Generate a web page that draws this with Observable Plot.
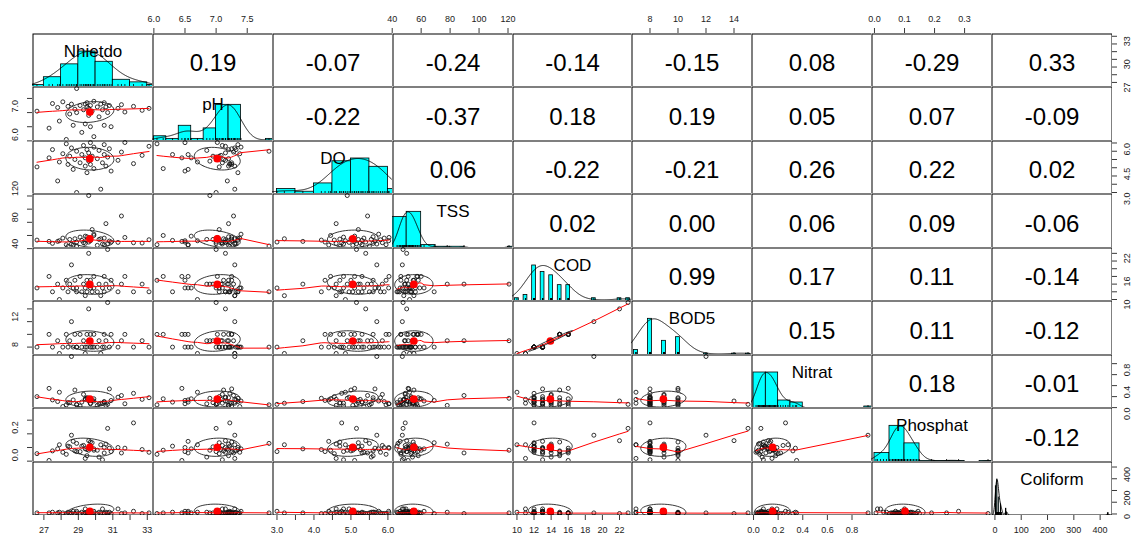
<!DOCTYPE html>
<html>
<head>
<meta charset="utf-8">
<script src="https://cdn.jsdelivr.net/npm/d3@7"></script>
<script src="https://cdn.jsdelivr.net/npm/@observablehq/plot@0.6"></script>
<style>
html, body { margin: 0; padding: 0; background: #fff; }
#chart { position: relative; width: 1131px; height: 533px; overflow: hidden; background: #fff;
  font-family: "Liberation Sans", Arial, Helvetica, sans-serif; }
.cell { position: absolute; overflow: hidden; }
.axis { position: absolute; overflow: visible; }
.cell svg, .axis svg { display: block; }
</style>
</head>
<body>
<div id="chart"></div>
<script>
// ---------------- data (one entry per water sample) ----------------
const variables = ["Nhietdo", "pH", "DO", "TSS", "COD", "BOD5", "Nitrat", "Phosphat", "Coliform"];

const nhietdo = [26.6, 27.3, 27.5, 27.8, 27.9, 28.1, 28.3, 28.4, 28.5, 28.6, 28.7, 28.8, 28.9, 28.9, 29.1, 29.2,
  29.3, 29.4, 29.4, 29.5, 29.5, 29.6, 29.6, 29.7, 29.7, 29.8, 29.9, 29.9, 30.1, 30.2, 30.3, 30.4, 30.5, 30.5,
  30.6, 30.7, 30.8, 30.9, 31.3, 31.5, 31.7, 32.2, 32.7, 33.1, null, null];
const ph = [7.05, 6.45, 7.32, 7.18, 6.7, 7.38, 6.05, 7.22, 6.95, 7.3, 6.55, 7.12, 7.85, 7.0, 7.25, 6.3, 7.1,
  7.3, 6.6, 7.2, 7.35, 6.9, 7.15, 6.5, 7.25, 7.05, 7.4, 6.15, 7.2, 6.85, 7.3, 7.1, 6.55, 7.35, 7.2, 7.0, 7.25,
  6.5, 7.15, 7.28, 7.02, 7.22, 7.08, 7.15, null, null];
const dissolvedO = [4.55, 5.1, 5.6, 3.7, 4.85, 5.35, 5.95, 4.7, 5.2, 5.7, 4.4, 5.0, 5.5, 3.0, 4.8, 5.3, 5.85,
  4.6, 5.1, 5.6, 4.2, 4.9, 5.4, 6.02, 4.7, 5.2, 5.75, 4.45, 5.05, 5.55, 3.2, 4.8, 5.3, 5.9, 4.6, 5.15, 5.65,
  4.3, 4.95, 5.45, 6.03, 4.75, 5.25, 5.8, null, null];
const tss = [53, 51, 48, 51, 52, 56, 46, 43.3, 54, 47, 45.5, 55, 44, 50, 57.5, 52.5, 49, 48, 59, 58, 53, 120.7,
  50, 52, 54.5, 69, 62, 60, 45, 54, 55, 47, 46, 56, 78, 47.5, 51.5, 50, 49.5, 89.6, 57, 49, 48.5, 53.5, null, null];
const cod = [13, 16, 12, 14, 10, 13, 15, 12, 14, 19, 13, 15, 12, 13, 16, 12, 14, 11, 13, 15, 12, 14, 22, 13, 15,
  12, 13, 16, 12, 14, 11, 13, 16, 12, 14, 23, 13, 15, 12, 14, 16, 12, 14, 12, null, null];
const bod5 = [8, 10, 8, 9, 7, 8, 10, 8, 9, 12, 8, 10, 8, 8, 10, 8, 9, 7, 8, 10, 8, 9, 14, 8, 10, 8, 8, 10, 8, 9,
  7, 8, 10, 8, 9, 15, 8, 10, 8, 9, 10, 8, 9, 8, null, null];
const nitrat = [0.2, 0.35, 0.14, 0.11, 0.28, 0.02, 0.05, 0.09, 0.09, 0.93, 0.14, 0.32, 0.05, 0.06, 0.03, 0.1,
  0.24, 0.15, 0.16, 0.18, 0.17, 0.17, 0.12, 0.07, 0.08, 0.13, 0.12, 0.16, 0.04, 0.07, 0.08, 0.08, 0.1, 0.11,
  0.04, 0.06, 0.34, 0.13, 0.19, 0.22, 0.07, 0.26, 0.15, 0.18, null, null];
const phosphat = [0.055, 0.005, 0.075, 0.09, 0.12, 0.065, 0.05, 0.11, 0.105, 0.19, 0.145, 0.075, 0.13, 0.07,
  0.07, 0.11, 0.115, 0.02, 0.09, 0.04, 0.085, 0.08, 0.15, 0.1, 0.14, 0.135, 0.09, 0.08, 0.08, 0.03, 0.12, 0.01,
  0.06, 0.1, 0.125, 0.24, 0.095, 0.07, 0.1, 0.06, 0.095, 0.28, 0.085, 0.065, 0.378, null];
const coliform = [9, 9, 15, 9, 15, 9, 4, 15, 9, 9, 23, 4, 9, 23, 4, 15, 4, 43, 9, 15, 4, 9, 4, 23, 9, 4, 23, 9,
  4, 15, 9, 43, 9, 4, 15, 9, 15, 4, 43, 4, 9, 23, 4, 9, 4, 430];

// correlations printed in the upper triangle (row by row)
const corrRows = [
  ["0.19", "-0.07", "-0.24", "-0.14", "-0.15", "0.08", "-0.29", "0.33"],
  ["-0.22", "-0.37", "0.18", "0.19", "0.05", "0.07", "-0.09"],
  ["0.06", "-0.22", "-0.21", "0.26", "0.22", "0.02"],
  ["0.02", "0.00", "0.06", "0.09", "-0.06"],
  ["0.99", "0.17", "0.11", "-0.14"],
  ["0.15", "0.11", "-0.12"],
  ["0.18", "-0.01"],
  ["-0.12"]
];

// axis ticks and labels
const axisTicks = [
  [27, 28, 29, 30, 31, 32, 33],
  [6.0, 6.5, 7.0, 7.5],
  [3.0, 3.5, 4.0, 4.5, 5.0, 5.5, 6.0],
  [40, 60, 80, 100, 120],
  [10, 12, 14, 16, 18, 20, 22],
  [8, 10, 12, 14],
  [0, 0.2, 0.4, 0.6, 0.8],
  [0, 0.1, 0.2, 0.3],
  [0, 100, 200, 300, 400]
];
const xAxisLabels = [
  [27, 29, 31, 33], [6.0, 6.5, 7.0, 7.5], [3, 4, 5, 6], [40, 60, 80, 100, 120], [10, 12, 14, 16, 18, 20, 22],
  [8, 10, 12, 14], [0, 0.2, 0.4, 0.6, 0.8], [0, 0.1, 0.2, 0.3], [0, 100, 200, 300, 400]
];
const yAxisLabels = [
  [27, 30, 33], [6.0, 7.0], [3.0, 4.5, 6.0], [40, 80, 120], [10, 16, 22], [8, 12], [0, 0.4, 0.8], [0, 0.2], [0, 200, 400]
];
const labelDecimals = [0, 1, 1, 0, 0, 0, 1, 1, 0];

// ---------------- helpers ----------------
const columns = [nhietdo, ph, dissolvedO, tss, cod, bod5, nitrat, phosphat, coliform];
const FONT = '"Liberation Sans", Arial, Helvetica, sans-serif';
const N = variables.length;
const nObs = columns[0].length;
const present = columns.map(col => col.filter(v => v != null));
const domains = present.map(v => { const [a, b] = d3.extent(v); const p = 0.04 * (b - a); return [a - p, b + p]; });
const means = present.map(v => d3.mean(v));
const sds = present.map(v => d3.deviation(v));
const corrOf = (a, b) => corrRows[Math.min(a, b)][Math.max(a, b) - Math.min(a, b) - 1];

function lowess(x, y, f = 2 / 3, iter = 3) {
  const n = x.length;
  const order = d3.range(n).sort((a, b) => x[a] - x[b]);
  const X = order.map(i => x[i]), Y = order.map(i => y[i]);
  if (n < 3) return X.map((v, k) => ({x: v, y: Y[k]}));
  const ns = Math.max(2, Math.min(n, Math.floor(f * n + 1e-7)));
  const range = X[n - 1] - X[0];
  const rw = new Array(n).fill(1);
  const fit = new Array(n).fill(0);
  for (let it = 0; it <= iter; it++) {
    let nleft = 0, nright = ns - 1;
    for (let i = 0; i < n; i++) {
      while (nright < n - 1) {
        const d1 = X[i] - X[nleft], d2 = X[nright + 1] - X[i];
        if (d1 <= d2) break;
        nleft++; nright++;
      }
      const h = Math.max(X[i] - X[nleft], X[nright] - X[i]);
      const h9 = 0.999 * h, h1 = 0.001 * h;
      const w = new Array(n).fill(0);
      let a = 0, j = nleft;
      while (j < n) {
        const r = Math.abs(X[j] - X[i]);
        if (r <= h9) {
          w[j] = (r <= h1 ? 1 : Math.pow(1 - Math.pow(r / h, 3), 3)) * rw[j];
          a += w[j];
        } else if (X[j] > X[i]) break;
        j++;
      }
      const nrt = j - 1;
      if (a <= 0) { fit[i] = Y[i]; continue; }
      for (let k = nleft; k <= nrt; k++) w[k] /= a;
      if (h > 0) {
        let aa = 0;
        for (let k = nleft; k <= nrt; k++) aa += w[k] * X[k];
        let b = X[i] - aa, c = 0;
        for (let k = nleft; k <= nrt; k++) c += w[k] * (X[k] - aa) * (X[k] - aa);
        if (Math.sqrt(c) > 0.001 * range) {
          b /= c;
          for (let k = nleft; k <= nrt; k++) w[k] *= (b * (X[k] - aa) + 1);
        }
      }
      let s = 0;
      for (let k = nleft; k <= nrt; k++) s += w[k] * Y[k];
      fit[i] = s;
    }
    if (it >= iter) break;
    const absr = Y.map((v, k) => Math.abs(v - fit[k]));
    const cmad = 6 * d3.median(absr);
    if (cmad < 1e-7 * d3.mean(Y, v => Math.abs(v))) break;
    const c9 = 0.999 * cmad, c1 = 0.001 * cmad;
    for (let k = 0; k < n; k++) {
      const r = absr[k];
      rw[k] = r <= c1 ? 1 : r <= c9 ? Math.pow(1 - Math.pow(r / cmad, 2), 2) : 0;
    }
  }
  return X.map((v, k) => ({x: v, y: fit[k]}));
}

function ellipsePoints(xm, ym, xsd, ysd, rho) {
  const th = rho !== 0 ? Math.sign(rho) / Math.SQRT2 : 1 / Math.SQRT2;
  const s1 = Math.sqrt(1 + rho), s2 = Math.sqrt(1 - rho);
  return d3.range(52).map(k => {
    const a = k * 2 * Math.PI / 51, c = Math.cos(a), s = Math.sin(a);
    return {x: xm + xsd * th * (c * s1 - s * s2), y: ym + ysd * th * (c * s1 + s * s2)};
  });
}

function histBars(vals) {
  const uniq = Array.from(new Set(vals)).sort((a, b) => a - b);
  if (uniq.length < 11) {
    const counts = uniq.map(u => vals.filter(v => v === u).length);
    const mx = d3.max(counts);
    const ib = d3.min(d3.pairs(uniq, (a, b) => b - a)) * (uniq.length - 1) / 41;
    return uniq.map((u, k) => ({x1: u - ib, x2: u + ib, y1: 0, y2: counts[k] / mx}));
  }
  const k = Math.ceil(Math.log2(vals.length) + 1);
  const mn = d3.min(vals), mx = d3.max(vals);
  const step = d3.tickStep(mn, mx, k);
  const lo = Math.floor(mn / step + 1e-9), hi = Math.ceil(mx / step - 1e-9);
  const breaks = d3.range(lo, hi + 1).map(i => +(i * step).toFixed(10));
  const nb = breaks.length - 1;
  const counts = new Array(nb).fill(0);
  for (const v of vals) {
    let b = 0;
    while (b < nb - 1 && v > breaks[b + 1] + 1e-9) b++;
    counts[b]++;
  }
  const top = d3.max(counts);
  return counts.map((c, b) => ({x1: breaks[b], x2: breaks[b + 1], y1: 0, y2: c / top})).filter(d => d.y2 > 0);
}

function densityCurve(vals) {
  const n = vals.length;
  const sorted = vals.slice().sort((a, b) => a - b);
  const iqr = d3.quantileSorted(sorted, 0.75) - d3.quantileSorted(sorted, 0.25);
  let bw = 1.06 * Math.min(d3.deviation(vals), iqr / 1.34) * Math.pow(n, -0.2);
  if (!(bw > 0)) return [];
  bw *= 1.2;
  const from = sorted[0] - 3 * bw, to = sorted[n - 1] + 3 * bw;
  const grid = d3.range(512).map(k => from + (to - from) * k / 511);
  const dens = grid.map(g => d3.sum(vals, v => Math.exp(-0.5 * ((g - v) / bw) ** 2)));
  const m = d3.max(dens);
  return grid.map((g, k) => ({x: g, y: dens[k] / m}));
}

// ---------------- layout ----------------
const root = document.getElementById("chart");
const X0 = 32, X1 = 1111, Y0 = 33, Y1 = 514;
const gx = d3.range(N + 1).map(k => Math.round(X0 + k * (X1 - X0) / N));
const gy = d3.range(N + 1).map(k => Math.round(Y0 + k * (Y1 - Y0) / N));
const cellStyle = `background: white; overflow: hidden; font-family: ${FONT};`;
const axisStyle = `background: transparent; overflow: visible; font-family: ${FONT};`;

function place(node, left, top, w, h, cls) {
  const div = document.createElement("div");
  div.className = cls;
  Object.assign(div.style, {left: left + "px", top: top + "px", width: w + "px", height: h + "px"});
  div.appendChild(node);
  root.appendChild(div);
}

const frame = () => Plot.frame({stroke: "black", strokeWidth: 1, inset: 0.5});

function scatterCell(r, c, w, h) {
  const pts = d3.range(nObs).filter(k => columns[c][k] != null && columns[r][k] != null)
    .map(k => ({x: columns[c][k], y: columns[r][k]}));
  const smooth = lowess(pts.map(d => d.x), pts.map(d => d.y));
  const ell = ellipsePoints(means[c], means[r], sds[c], sds[r], +corrOf(r, c));
  return Plot.plot({
    width: w, height: h, margin: 0, style: cellStyle,
    x: {domain: domains[c], axis: null}, y: {domain: domains[r], axis: null},
    marks: [
      Plot.dot(pts, {x: "x", y: "y", r: 2, stroke: "#111", strokeWidth: 0.85, fill: "none"}),
      Plot.line(smooth, {x: "x", y: "y", stroke: "red", strokeWidth: 1}),
      Plot.dot([{x: means[c], y: means[r]}], {x: "x", y: "y", r: 3.1, fill: "red", stroke: "red"}),
      Plot.line(ell, {x: "x", y: "y", stroke: "#222", strokeWidth: 0.9}),
      frame()
    ]
  });
}

function diagCell(r, w, h) {
  const vals = present[r];
  const rugLen = 1.5 * 3 / h;
  return Plot.plot({
    width: w, height: h, margin: 0, style: cellStyle,
    x: {domain: domains[r], axis: null}, y: {domain: [0, 1.5], axis: null},
    marks: [
      Plot.rect(histBars(vals), {x1: "x1", x2: "x2", y1: "y1", y2: "y2", fill: "cyan", stroke: "black", strokeWidth: 0.8}),
      Plot.line(densityCurve(vals), {x: "x", y: "y", stroke: "black", strokeWidth: 0.9}),
      Plot.ruleX(vals, {x: d => d, y1: 0, y2: rugLen, stroke: "black", strokeWidth: 0.8}),
      Plot.text([variables[r]], {text: d => d, frameAnchor: "top", dy: 11, fontSize: 17, fill: "black"}),
      frame()
    ]
  });
}

function textCell(r, c, w, h) {
  return Plot.plot({
    width: w, height: h, margin: 0, style: cellStyle,
    marks: [
      Plot.text([corrOf(r, c)], {text: d => d, frameAnchor: "middle", dy: 3, fontSize: 24, fill: "black"}),
      frame()
    ]
  });
}

for (let r = 0; r < N; r++) {
  for (let c = 0; c < N; c++) {
    const w = gx[c + 1] - gx[c] + 1, h = gy[r + 1] - gy[r] + 1;
    const node = r === c ? diagCell(r, w, h) : r > c ? scatterCell(r, c, w, h) : textCell(r, c, w, h);
    place(node, gx[c], gy[r], w, h, "cell");
  }
}

// ---------------- outer axes ----------------
const fmt = (v, i) => v.toFixed(labelDecimals[i]);
const TICK = 5, AXIS_COLOR = "#222";

for (let c = 0; c < N; c++) {
  const w = gx[c + 1] - gx[c] + 1;
  const onTop = c % 2 === 1;
  const node = Plot.plot({
    width: w, height: TICK, margin: 0, style: axisStyle,
    x: {domain: domains[c], axis: null},
    marks: [
      Plot.tickX(axisTicks[c], {x: d => d, stroke: AXIS_COLOR, strokeWidth: 0.9}),
      Plot.text(xAxisLabels[c], {x: d => d, text: d => fmt(d, c), frameAnchor: onTop ? "top" : "bottom",
        dy: onTop ? -13 : 12, fontSize: 9, fill: AXIS_COLOR})
    ]
  });
  place(node, gx[c], onTop ? gy[0] - TICK : gy[N] + 1, w, TICK, "axis");
}

for (let r = 0; r < N; r++) {
  const h = gy[r + 1] - gy[r] + 1;
  const onLeft = r % 2 === 1;
  const node = Plot.plot({
    width: TICK, height: h, margin: 0, style: axisStyle,
    y: {domain: domains[r], axis: null},
    marks: [
      Plot.tickY(axisTicks[r], {y: d => d, stroke: AXIS_COLOR, strokeWidth: 0.9}),
      Plot.text(yAxisLabels[r], {y: d => d, text: d => fmt(d, r), frameAnchor: onLeft ? "left" : "right",
        dx: onLeft ? -12 : 10, rotate: -90, fontSize: 9, fill: AXIS_COLOR})
    ]
  });
  place(node, onLeft ? gx[0] - TICK : gx[N] + 1, gy[r], TICK, h, "axis");
}
</script>
</body>
</html>
